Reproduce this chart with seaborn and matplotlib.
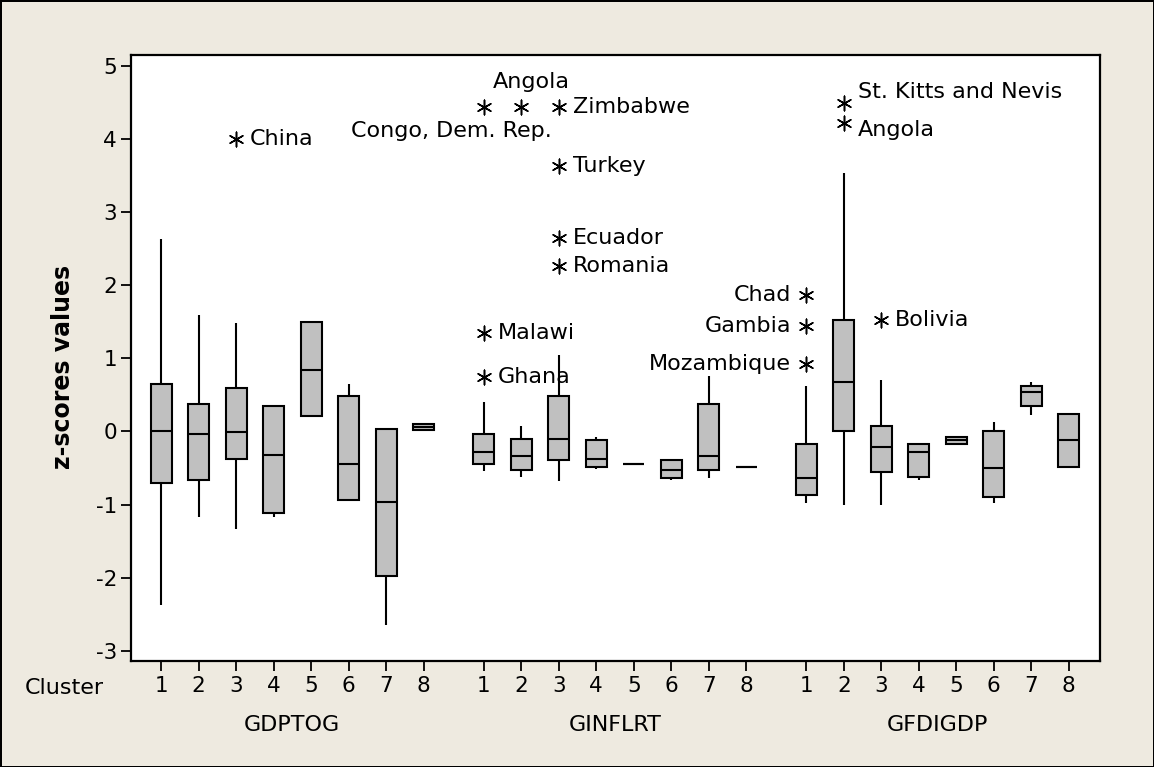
import pandas as pd
import seaborn as sns
import matplotlib.pyplot as plt

variables = ['GDPTOG', 'GINFLRT', 'GFDIGDP']
clusters = [1, 2, 3, 4, 5, 6, 7, 8]

# five-number summaries:
# [low whisker, Q1, median, Q3, high whisker] for clusters 1..8
gdptog = [
    [-2.38, -0.70, 0.00, 0.65, 2.63],
    [-1.17, -0.67, -0.04, 0.37, 1.59],
    [-1.33, -0.37, -0.01, 0.59, 1.48],
    [-1.17, -1.11, -0.32, 0.35, 0.35],
    [0.21, 0.21, 0.84, 1.50, 1.50],
    [-0.94, -0.94, -0.45, 0.48, 0.65],
    [-2.65, -1.98, -0.97, 0.04, 0.04],
    [0.02, 0.02, 0.06, 0.10, 0.10],
]
ginflrt = [
    [-0.54, -0.45, -0.28, -0.03, 0.40],
    [-0.62, -0.53, -0.34, -0.10, 0.07],
    [-0.68, -0.39, -0.10, 0.48, 1.05],
    [-0.51, -0.48, -0.37, -0.12, -0.07],
    [-0.45, -0.45, -0.45, -0.45, -0.45],
    [-0.67, -0.64, -0.53, -0.39, -0.39],
    [-0.64, -0.53, -0.34, 0.37, 0.76],
    [-0.48, -0.48, -0.48, -0.48, -0.48],
]
gfdigdp = [
    [-0.98, -0.87, -0.64, -0.17, 0.62],
    [-1.00, 0.01, 0.67, 1.52, 3.53],
    [-1.00, -0.56, -0.21, 0.07, 0.71],
    [-0.67, -0.62, -0.28, -0.17, -0.17],
    [-0.17, -0.17, -0.12, -0.07, -0.07],
    [-0.98, -0.89, -0.50, 0.01, 0.13],
    [0.23, 0.35, 0.54, 0.62, 0.67],
    [-0.48, -0.48, -0.12, 0.24, 0.24],
]

# outliers
out_var = ['GDPTOG', 'GINFLRT', 'GINFLRT', 'GINFLRT', 'GINFLRT', 'GINFLRT',
           'GINFLRT', 'GINFLRT', 'GINFLRT', 'GFDIGDP', 'GFDIGDP', 'GFDIGDP',
           'GFDIGDP', 'GFDIGDP', 'GFDIGDP']
out_cluster = [3, 1, 2, 3, 3, 3, 3, 1, 1, 1, 1, 1, 2, 2, 3]
out_value = [4.00, 4.44, 4.44, 4.44, 3.63, 2.64, 2.26, 1.35, 0.74,
             1.87, 1.44, 0.92, 4.49, 4.22, 1.53]
out_label = ['China', 'Congo, Dem. Rep.', 'Angola', 'Zimbabwe', 'Turkey',
             'Ecuador', 'Romania', 'Malawi', 'Ghana', 'Chad', 'Gambia',
             'Mozambique', 'St. Kitts and Nevis', 'Angola', 'Bolivia']

# label placement (offset in points, horizontal alignment)
label_place = {
    'Congo, Dem. Rep.': (49, -17, 'right'),
    'Angola_GINFLRT': (7, 18, 'center'),
    'Chad': (-11, 0, 'right'),
    'Gambia': (-11, 0, 'right'),
    'Mozambique': (-11, 0, 'right'),
    'St. Kitts and Nevis': (10, 8, 'left'),
    'Angola_GFDIGDP': (10, -5, 'left'),
}

GAP = 8.6


def xpos(var, cl):
    return variables.index(var) * GAP + (cl - 1)


rows = []
for var, table in zip(variables, [gdptog, ginflrt, gfdigdp]):
    for cl, summary in zip(clusters, table):
        for v in summary:
            rows.append({'pos': xpos(var, cl), 'value': v})
boxes = pd.DataFrame(rows)

outliers = pd.DataFrame({'var': out_var, 'cluster': out_cluster,
                         'value': out_value, 'label': out_label})
outliers['pos'] = [xpos(v, c) for v, c in zip(out_var, out_cluster)]

bg = '#EEEAE0'
plt.rcParams['font.family'] = ['DejaVu Sans']
plt.rcParams['axes.unicode_minus'] = False

fig = plt.figure(figsize=(11.54, 7.67), dpi=100)
fig.patch.set_facecolor(bg)
fig.patch.set_edgecolor('black')
fig.patch.set_linewidth(2)
ax = fig.add_axes([131 / 1154, 1 - 661 / 767, 969 / 1154, 606 / 767])
ax.set_facecolor('white')

sns.boxplot(data=boxes, x='pos', y='value', native_scale=True,
            whis=(0, 100), width=0.56, color='#C0C0C0', saturation=1,
            linecolor='black', linewidth=1.5, showcaps=False,
            showfliers=False, ax=ax)

sns.scatterplot(data=outliers, x='pos', y='value', marker=(6, 2, 0),
                color='black', s=110, linewidth=1.1, ax=ax, zorder=5)

for _, r in outliers.iterrows():
    key = r['label']
    if key == 'Angola':
        key = 'Angola_' + r['var']
    dx, dy, ha = label_place.get(key, (10, 0, 'left'))
    ax.annotate(r['label'], (r['pos'], r['value']), xytext=(dx, dy),
                textcoords='offset points', ha=ha, va='center', fontsize=16)

ax.set_xlim(-0.80, 25.03)
ax.set_ylim(-3.14, 5.15)
ticks = [xpos(v, c) for v in variables for c in clusters]
ax.set_xticks(ticks)
ax.set_xticklabels([str(c) for v in variables for c in clusters])
ax.set_yticks(range(-3, 6))
ax.tick_params(axis='both', direction='out', length=7, width=1.3,
               labelsize=15.5, color='black')
ax.tick_params(axis='x', pad=4)
ax.tick_params(axis='y', pad=3)
for s in ax.spines.values():
    s.set_color('black')
    s.set_linewidth(1.6)

ax.set_xlabel('')
ax.set_ylabel('z-scores values', fontsize=17, fontweight='bold')
ax.yaxis.set_label_coords(-0.058, 0.485)

for i, v in enumerate(variables):
    ax.text(i * GAP + 3.5, -0.106, v, transform=ax.get_xaxis_transform(),
            ha='center', va='center', fontsize=16)
fig.text(25 / 1154, 1 - 688 / 767, 'Cluster', ha='left', va='center',
         fontsize=16)

fig.savefig('out.png', dpi=100, facecolor=bg, edgecolor='black')
